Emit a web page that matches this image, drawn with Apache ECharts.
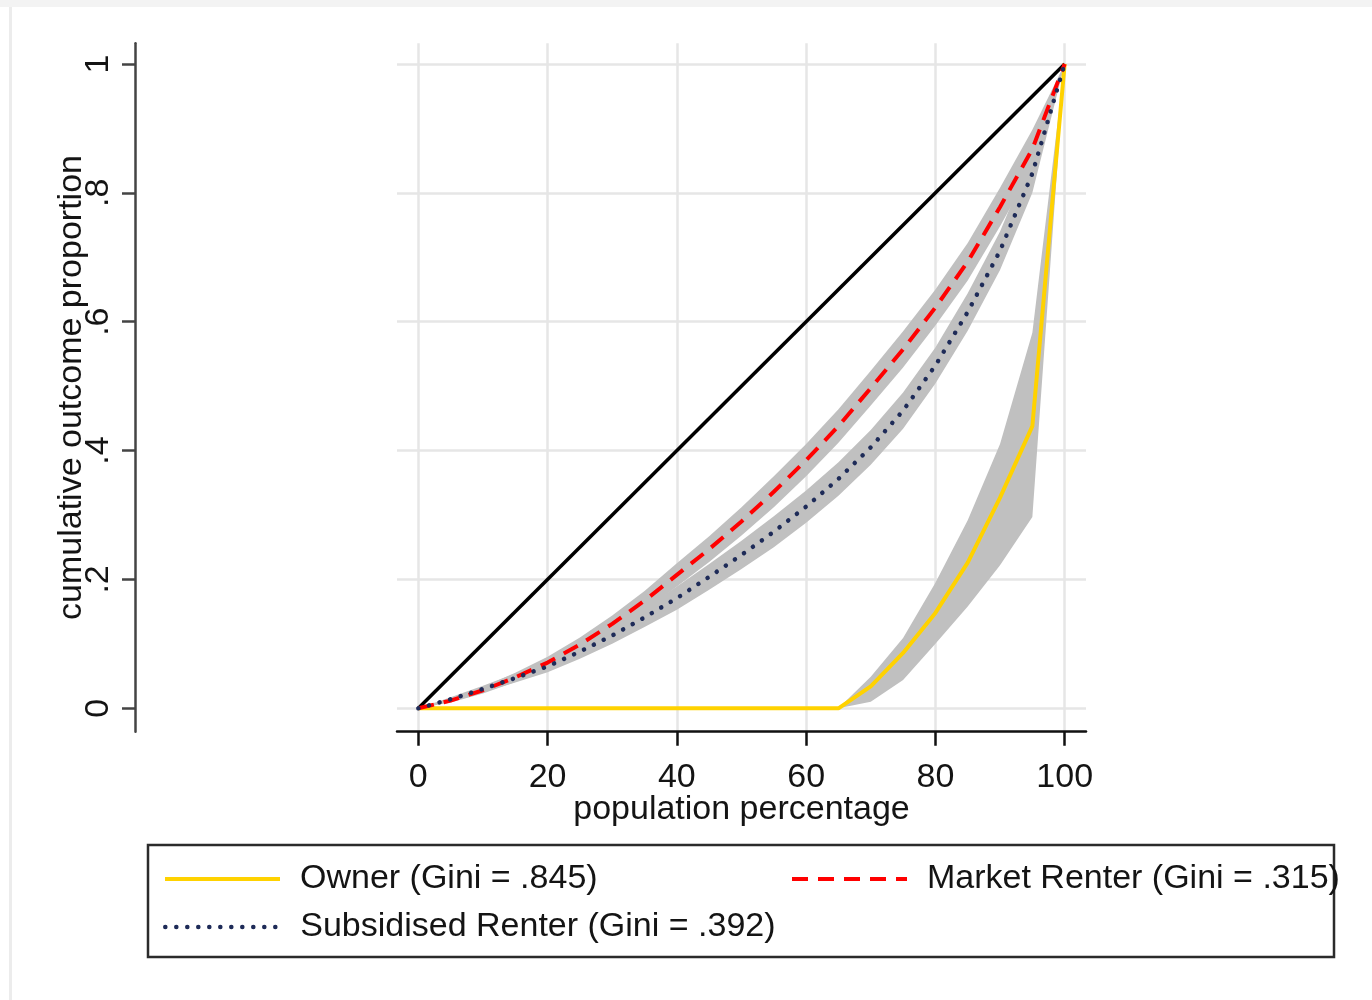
<!DOCTYPE html>
<html>
<head>
<meta charset="utf-8">
<script src="https://cdn.jsdelivr.net/npm/echarts@6/dist/echarts.min.js"></script>
<style>
html,body{margin:0;padding:0;background:#ffffff;}
#chart{width:1372px;height:1000px;}
</style>
</head>
<body>
<div id="chart"></div>
<script>
// ---- data ----
const popPct = [0,5,10,15,20,25,30,35,40,45,50,55,60,65,70,75,80,85,90,95,100];

const ownerShare   = [0,0,0,0,0,0,0,0,0,0,0,0,0,0,0.034,0.086,0.148,0.226,0.327,0.438,1];
const ownerLo      = [0,0,0,0,0,0,0,0,0,0,0,0,0,0,0.010,0.044,0.100,0.158,0.222,0.297,1];
const ownerHi      = [0,0,0,0,0,0,0,0,0,0,0,0,0,0,0.049,0.109,0.195,0.292,0.410,0.583,1];

const marketShare  = [0,0.012,0.028,0.048,0.071,0.099,0.131,0.167,0.207,0.247,0.290,0.336,0.385,0.438,0.497,0.557,0.622,0.693,0.778,0.868,1];
const marketLo     = [0,0.009,0.023,0.041,0.062,0.088,0.118,0.152,0.189,0.227,0.268,0.312,0.360,0.412,0.470,0.529,0.594,0.664,0.748,0.838,1];
const marketHi     = [0,0.015,0.033,0.055,0.080,0.110,0.144,0.182,0.225,0.267,0.312,0.360,0.410,0.464,0.524,0.585,0.650,0.722,0.808,0.898,1];

const subsidShare  = [0,0.014,0.030,0.047,0.065,0.088,0.113,0.141,0.171,0.204,0.238,0.274,0.313,0.356,0.405,0.462,0.532,0.615,0.710,0.830,1];
const subsidLo     = [0,0.011,0.025,0.040,0.056,0.077,0.100,0.126,0.153,0.184,0.216,0.250,0.288,0.330,0.378,0.434,0.504,0.586,0.680,0.800,1];
const subsidHi     = [0,0.017,0.035,0.054,0.074,0.099,0.126,0.156,0.189,0.224,0.260,0.298,0.338,0.382,0.432,0.490,0.560,0.644,0.740,0.860,1];

const equalityX = [0,100];
const equalityY = [0,1];

const xTickValues = [0,20,40,60,80,100];
const xTickLabels = ['0','20','40','60','80','100'];
const yTickValues = [0,0.2,0.4,0.6,0.8,1];
const yTickLabels = ['0','.2','.4','.6','.8','1'];

const seriesNames = ['Owner (Gini = .845)','Market Renter (Gini = .315)','Subsidised Renter (Gini = .392)'];
const xTitle = 'population percentage';
const yTitle = 'cumulative outcome proportion';

// ---- chart ----
const FONT = "'Liberation Sans', Arial, sans-serif";
const TXT = '#141414';
const chart = echarts.init(document.getElementById('chart'), null, {renderer:'canvas'});

function pairs(xs, ys){ return xs.map((x,i)=>[x, ys[i]]); }

function band(name, lo, hi){
  return {
    type:'custom', name:name, silent:true, coordinateSystem:'cartesian2d', z:1,
    data: popPct.map((x,i)=>[x, lo[i], hi[i]]),
    encode:{x:0, y:[1,2]},
    renderItem:function(params, api){
      if (params.dataIndex !== 0) return null;
      const pts = [];
      for (let i=0;i<popPct.length;i++) pts.push(api.coord([popPct[i], hi[i]]));
      for (let i=popPct.length-1;i>=0;i--) pts.push(api.coord([popPct[i], lo[i]]));
      return {type:'polygon', shape:{points:pts}, style:{fill:'#c0c0c0', stroke:null}};
    }
  };
}

function legendAt(name, left, top, lw){
  return {
    data:[name], left:left, top:top, padding:0, itemGap:0,
    itemWidth:115, itemHeight:14, selectedMode:false,
    itemStyle:{color:'rgba(0,0,0,0)', borderWidth:0, opacity:0},
    lineStyle:{width:lw},
    textStyle:{fontFamily:FONT, fontSize:34, color:TXT, lineHeight:40, padding:[0,0,0,15]}
  };
}

const option = {
  backgroundColor:'#ffffff',
  animation:false,
  textStyle:{fontFamily:FONT},
  grid:{left:397, top:43.3, width:689, height:688.4, outerBoundsMode:'none', containLabel:false},
  xAxis:{
    type:'value', min:-3.3, max:103.3,
    name:xTitle, nameLocation:'middle', nameGap:61, nameMoveOverlap:false,
    nameTextStyle:{fontFamily:FONT, fontSize:34, color:TXT},
    axisLine:{show:true, onZero:false, lineStyle:{color:'#111', width:2.5}},
    axisTick:{show:true, length:14, customValues:xTickValues, lineStyle:{color:'#111', width:2.5}},
    axisLabel:{customValues:xTickValues, margin:29, fontFamily:FONT, fontSize:34, color:TXT,
      formatter:function(v){ const i = xTickValues.indexOf(v); return i>=0 ? xTickLabels[i] : ''; }},
    splitLine:{show:true, lineStyle:{color:'#e6e6e6', width:2.5}}
  },
  yAxis:{
    type:'value', min:-0.0363, max:1.032, offset:262,
    name:yTitle, nameLocation:'middle', nameGap:46, nameRotate:90, nameMoveOverlap:false,
    nameTextStyle:{fontFamily:FONT, fontSize:34, color:TXT},
    axisLine:{show:true, onZero:false, lineStyle:{color:'#444', width:2.5}},
    axisTick:{show:true, length:13, customValues:yTickValues, lineStyle:{color:'#444', width:2.5}},
    axisLabel:{customValues:yTickValues, rotate:90, margin:19, fontFamily:FONT, fontSize:34, color:TXT,
      formatter:function(v){ let i=-1; yTickValues.forEach((t,k)=>{ if (Math.abs(t-v)<1e-9) i=k; }); return i>=0 ? yTickLabels[i] : ''; }},
    splitLine:{show:true, lineStyle:{color:'#e6e6e6', width:2.5}}
  },
  legend:[
    legendAt(seriesNames[0], 163, 859, 4),
    legendAt(seriesNames[1], 790, 859, 4),
    legendAt(seriesNames[2], 163, 907, 4.5)
  ],
  graphic:[
    {type:'rect', z:-10, silent:true, shape:{x:0, y:0, width:1372, height:7}, style:{fill:'#f3f3f3'}},
    {type:'rect', z:-10, silent:true, shape:{x:9, y:7, width:3, height:993}, style:{fill:'#ececec'}},
    {type:'rect', z:-5, silent:true, shape:{x:148, y:845, width:1186, height:112},
      style:{fill:'#ffffff', stroke:'#2b2b2b', lineWidth:2.5}}
  ],
  series:[
    band('ownerCI', ownerLo, ownerHi),
    band('marketCI', marketLo, marketHi),
    band('subsidCI', subsidLo, subsidHi),
    {type:'line', name:'equality', data:pairs(equalityX, equalityY), symbol:'none', z:3,
      lineStyle:{color:'#000000', width:3.5}},
    {type:'line', name:seriesNames[0], data:pairs(popPct, ownerShare), symbol:'none', z:4,
      itemStyle:{color:'#ffd200'}, lineStyle:{color:'#ffd200', width:4}},
    {type:'line', name:seriesNames[1], data:pairs(popPct, marketShare), symbol:'none', z:4,
      itemStyle:{color:'#ff0000'}, lineStyle:{color:'#ff0000', width:4, type:[16,10]}},
    {type:'line', name:seriesNames[2], data:pairs(popPct, subsidShare), symbol:'none', z:5,
      itemStyle:{color:'#1e2b58'}, lineStyle:{color:'#1e2b58', width:4.5, type:[0.1,10.9], cap:'round'}}
  ]
};
chart.setOption(option);
</script>
</body>
</html>
